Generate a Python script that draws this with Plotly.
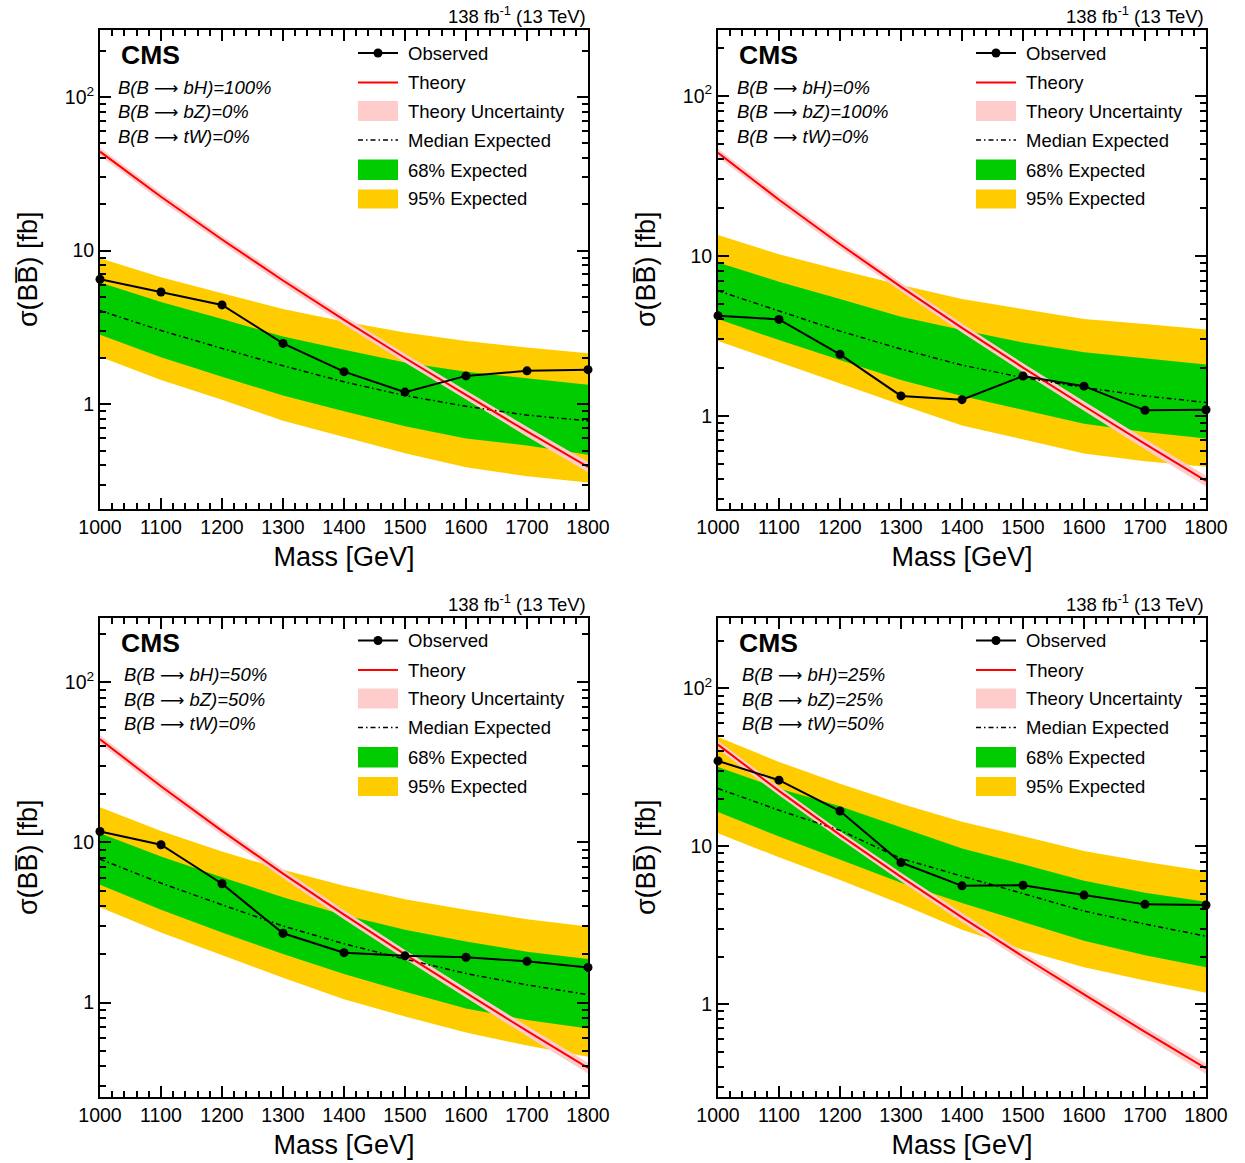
import plotly.graph_objects as go

# ---------------- data ----------------
mass = [1000, 1100, 1200, 1300, 1400, 1500, 1600, 1700, 1800]

theory = [44.0, 22.4, 11.8, 6.39, 3.54, 2.00, 1.15, 0.666, 0.391]
theory_up = [46.6, 23.8, 12.5, 6.79, 3.77, 2.13, 1.23, 0.714, 0.421]
theory_dn = [41.4, 21.0, 11.1, 5.99, 3.31, 1.87, 1.07, 0.618, 0.361]

# panel 1: bH=100%
obs1 = [6.51, 5.38, 4.43, 2.49, 1.63, 1.20, 1.53, 1.65, 1.68]
exp1 = [4.07, 3.02, 2.31, 1.78, 1.40, 1.14, 0.97, 0.85, 0.78]
up68_1 = [6.19, 4.63, 3.59, 2.76, 2.26, 1.87, 1.63, 1.48, 1.34]
dn68_1 = [2.83, 2.02, 1.51, 1.14, 0.90, 0.72, 0.60, 0.54, 0.47]
up95_1 = [8.91, 6.70, 5.28, 4.17, 3.45, 2.93, 2.58, 2.34, 2.15]
dn95_1 = [2.04, 1.44, 1.07, 0.78, 0.61, 0.48, 0.39, 0.34, 0.31]

# panel 2: bZ=100%
obs2 = [4.22, 4.00, 2.42, 1.33, 1.26, 1.77, 1.53, 1.08, 1.09]
exp2 = [6.04, 4.51, 3.38, 2.61, 2.07, 1.73, 1.50, 1.33, 1.21]
up68_2 = [9.08, 6.88, 5.36, 4.16, 3.43, 2.87, 2.49, 2.28, 2.09]
dn68_2 = [4.02, 2.97, 2.23, 1.67, 1.33, 1.09, 0.89, 0.79, 0.72]
up95_2 = [13.5, 10.2, 8.14, 6.56, 5.36, 4.64, 4.02, 3.74, 3.46]
dn95_2 = [2.93, 2.15, 1.59, 1.17, 0.87, 0.71, 0.58, 0.52, 0.48]

# panel 3: bH=50%, bZ=50%
obs3 = [11.7, 9.67, 5.52, 2.71, 2.05, 1.96, 1.92, 1.81, 1.66]
exp3 = [7.87, 5.57, 4.08, 3.01, 2.33, 1.87, 1.52, 1.29, 1.12]
up68_3 = [11.4, 8.18, 6.07, 4.55, 3.53, 2.85, 2.41, 2.08, 1.87]
dn68_3 = [5.44, 3.80, 2.74, 2.01, 1.51, 1.17, 0.92, 0.78, 0.69]
up95_3 = [16.6, 11.8, 8.78, 6.75, 5.36, 4.42, 3.80, 3.32, 2.99]
dn95_3 = [3.94, 2.74, 1.99, 1.43, 1.05, 0.82, 0.65, 0.54, 0.46]

# panel 4: bH=25%, bZ=25%, tW=50%
obs4 = [34.7, 26.2, 16.7, 7.88, 5.61, 5.66, 4.90, 4.28, 4.24]
exp4 = [23.2, 16.9, 12.6, 8.36, 6.46, 5.01, 3.88, 3.21, 2.69]
up68_4 = [31.8, 23.2, 17.9, 13.1, 9.67, 7.69, 6.04, 5.07, 4.45]
dn68_4 = [16.5, 11.5, 8.24, 5.87, 4.37, 3.32, 2.52, 2.04, 1.71]
up95_4 = [49.2, 34.2, 24.9, 18.6, 14.3, 11.6, 9.34, 7.96, 6.95]
dn95_4 = [12.1, 8.5, 6.1, 4.3, 2.96, 2.20, 1.71, 1.41, 1.18]

ARROW = '<span style="font-family:DejaVu Sans;font-style:normal;font-size:17px">\u27f6</span>'
br_labels = [
    ["B(B " + ARROW + " bH)=100%", "B(B " + ARROW + " bZ)=0%", "B(B " + ARROW + " tW)=0%"],
    ["B(B " + ARROW + " bH)=0%", "B(B " + ARROW + " bZ)=100%", "B(B " + ARROW + " tW)=0%"],
    ["B(B " + ARROW + " bH)=50%", "B(B " + ARROW + " bZ)=50%", "B(B " + ARROW + " tW)=0%"],
    ["B(B " + ARROW + " bH)=25%", "B(B " + ARROW + " bZ)=25%", "B(B " + ARROW + " tW)=50%"],
]
legend_labels = ["Observed", "Theory", "Theory Uncertainty",
                 "Median Expected", "68% Expected", "95% Expected"]
x_ticks = [1000, 1100, 1200, 1300, 1400, 1500, 1600, 1700, 1800]
y_ticks = [1, 10, 100]
y_ticktext = ["1", "10", "10<sup>2</sup>"]
y_minor = [0.2, 0.3, 0.4, 0.5, 0.6, 0.7, 0.8, 0.9,
           2, 3, 4, 5, 6, 7, 8, 9, 20, 30, 40, 50, 60, 70, 80, 90, 200]
lumi_text = "138 fb<sup>-1</sup> (13 TeV)"
x_title = "Mass [GeV]"
y_title = "\u03c3(BB\u0305) [fb]"

# ---------------- layout / style ----------------
W, H = 1245, 1163
FONT = "Liberation Sans, Arial, Helvetica, sans-serif"
C_YEL = "#ffcc00"
C_GRN = "#00cc00"
C_PINK = "#ffcccc"
C_RED = "#ff0000"
MED_DASH = "5px,3px,1.5px,3px"

panels = [
    dict(obs=obs1, exp=exp1, u68=up68_1, d68=dn68_1, u95=up95_1, d95=dn95_1,
         yr=[-0.678, 2.435], box=(100, 30, 588, 508.5), tx=16),
    dict(obs=obs2, exp=exp2, u68=up68_2, d68=dn68_2, u95=up95_2, d95=dn95_2,
         yr=[-0.58, 2.411], box=(718, 30, 1206, 508.5), tx=17),
    dict(obs=obs3, exp=exp3, u68=up68_3, d68=dn68_3, u95=up95_3, d95=dn95_3,
         yr=[-0.589, 2.404], box=(100, 617.5, 588, 1097), tx=22),
    dict(obs=obs4, exp=exp4, u68=up68_4, d68=dn68_4, u95=up95_4, d95=dn95_4,
         yr=[-0.589, 2.449], box=(718, 617.5, 1206, 1097), tx=22),
]

fig = go.Figure()
shapes = []
annotations = []
layout_axes = {}

for i, p in enumerate(panels):
    n = i + 1
    sfx = "" if n == 1 else str(n)
    xa, ya = "x" + sfx, "y" + sfx
    l, t, r, b = p["box"]
    bw, bh = r - l, b - t

    def band(upper, lower, color):
        fig.add_trace(go.Scatter(
            x=mass + mass[::-1], y=upper + lower[::-1],
            fill="toself", fillcolor=color, mode="lines",
            line=dict(width=0, color=color), hoverinfo="skip",
            showlegend=False, xaxis=xa, yaxis=ya))

    band(p["u95"], p["d95"], C_YEL)
    band(p["u68"], p["d68"], C_GRN)
    band(theory_up, theory_dn, C_PINK)
    fig.add_trace(go.Scatter(x=mass, y=p["exp"], mode="lines",
                             line=dict(color="black", width=1.5, dash=MED_DASH),
                             showlegend=False, xaxis=xa, yaxis=ya))
    fig.add_trace(go.Scatter(x=mass, y=theory, mode="lines",
                             line=dict(color=C_RED, width=2),
                             showlegend=False, xaxis=xa, yaxis=ya))
    fig.add_trace(go.Scatter(x=mass, y=p["obs"], mode="lines+markers",
                             line=dict(color="black", width=2),
                             marker=dict(color="black", size=9),
                             cliponaxis=False,
                             showlegend=False, xaxis=xa, yaxis=ya))

    layout_axes["xaxis" + sfx] = dict(
        domain=[l / W, r / W], anchor=ya, type="linear", range=[1000, 1800],
        automargin=False,
        tickmode="array", tickvals=x_ticks, ticks="inside", ticklen=11,
        tickwidth=1.5, tickcolor="black", showline=True, linewidth=2,
        linecolor="black", mirror="allticks", showgrid=False, zeroline=False,
        minor=dict(dtick=20, tick0=1000, ticks="inside", ticklen=6,
                   tickwidth=1.5, tickcolor="black", showgrid=False),
        tickfont=dict(family=FONT, size=19.5, color="black"),
        title=dict(text=x_title, font=dict(family=FONT, size=27, color="black"),
                   standoff=10),
    )
    layout_axes["yaxis" + sfx] = dict(
        domain=[1 - b / H, 1 - t / H], anchor=xa, type="log", range=p["yr"],
        automargin=False,
        tickmode="array", tickvals=y_ticks, ticktext=y_ticktext,
        ticks="inside", ticklen=11, tickwidth=1.5, tickcolor="black",
        showline=True, linewidth=2, linecolor="black", mirror="allticks",
        showgrid=False, zeroline=False,
        minor=dict(tickmode="array", tickvals=y_minor, ticks="inside",
                   ticklen=6, tickwidth=1.5, tickcolor="black", showgrid=False),
        tickfont=dict(family=FONT, size=19.5, color="black"),
        title=dict(text=y_title, font=dict(family=FONT, size=27, color="black"),
                   standoff=19),
    )

    xref, yref = xa + " domain", ya + " domain"

    def fx(dx):
        return dx / bw

    def fy(dy):
        return 1 - dy / bh

    # lumi label
    annotations.append(dict(text=lumi_text, xref=xref, yref=yref, x=1, y=fy(-15),
                            xanchor="right", yanchor="middle", showarrow=False,
                            font=dict(family=FONT, size=18.5, color="black")))
    # CMS
    annotations.append(dict(text="<b>CMS</b>", xref=xref, yref=yref, x=fx(19), y=fy(25),
                            xanchor="left", yanchor="middle", showarrow=False,
                            font=dict(family=FONT, size=26.5, color="black")))
    # branching ratios
    for k, txt in enumerate(br_labels[i]):
        annotations.append(dict(text="<i>" + txt + "</i>", xref=xref, yref=yref,
                                x=fx(p["tx"]), y=fy(57 + 24.5 * k),
                                xanchor="left", yanchor="middle", showarrow=False,
                                font=dict(family=FONT, size=18.5, color="black")))
    # legend (drawn in the panel's own domain coordinates)
    ly = [23, 52.5, 81, 110, 140, 168.5]
    x0, x1 = fx(258), fx(298)
    for k, txt in enumerate(legend_labels):
        annotations.append(dict(text=txt, xref=xref, yref=yref, x=fx(306), y=fy(ly[k]),
                                xanchor="left", yanchor="middle", showarrow=False,
                                font=dict(family=FONT, size=18.5, color="black")))
    shapes.append(dict(type="line", xref=xref, yref=yref, x0=x0, x1=x1,
                       y0=fy(ly[0]), y1=fy(ly[0]), line=dict(color="black", width=2)))
    shapes.append(dict(type="circle", xref=xref, yref=yref,
                       x0=fx(278 - 4.5), x1=fx(278 + 4.5),
                       y0=fy(ly[0] - 4.5), y1=fy(ly[0] + 4.5),
                       fillcolor="black", line=dict(color="black", width=0)))
    shapes.append(dict(type="line", xref=xref, yref=yref, x0=x0, x1=x1,
                       y0=fy(ly[1]), y1=fy(ly[1]), line=dict(color=C_RED, width=2)))
    shapes.append(dict(type="rect", xref=xref, yref=yref, x0=x0, x1=x1,
                       y0=fy(71), y1=fy(91), fillcolor=C_PINK, line=dict(width=0)))
    shapes.append(dict(type="line", xref=xref, yref=yref, x0=x0, x1=x1,
                       y0=fy(ly[3]), y1=fy(ly[3]),
                       line=dict(color="black", width=1.5, dash=MED_DASH)))
    shapes.append(dict(type="rect", xref=xref, yref=yref, x0=x0, x1=x1,
                       y0=fy(129.5), y1=fy(150), fillcolor=C_GRN, line=dict(width=0)))
    shapes.append(dict(type="rect", xref=xref, yref=yref, x0=x0, x1=x1,
                       y0=fy(159.5), y1=fy(178.5), fillcolor=C_YEL, line=dict(width=0)))

fig.update_layout(
    width=W, height=H, autosize=False,
    margin=dict(l=0, r=0, t=0, b=0, pad=0),
    paper_bgcolor="white", plot_bgcolor="white",
    showlegend=False, shapes=shapes, annotations=annotations,
    font=dict(family=FONT, color="black"),
    **layout_axes,
)

fig.write_html("out.html")
